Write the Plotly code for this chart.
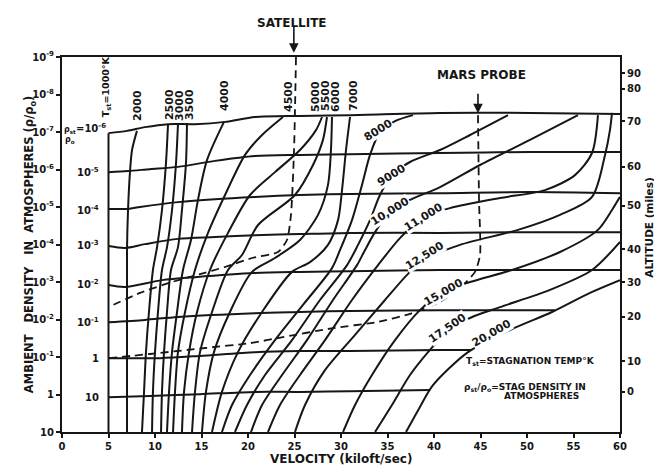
import numpy as np
import plotly.graph_objects as go

INK = "#161616"
FONT = "DejaVu Sans"

# ---------------- data (velocity in kiloft/sec, log10 of ambient density in atm) ----------------
# constant stagnation temperature curves
t1000_v = [5, 5]
t1000_e = [-6.97, 1.0]
t2000_v = [8.06, 7.53, 7.31, 7.10, 6.99, 6.99]
t2000_e = [-7.03, -6.52, -5.93, -4.92, -3.85, 1.0]
t2500_v = [11.40, 11.18, 10.75, 10.22, 9.78, 9.35, 9.03, 8.82, 8.60]
t2500_e = [-7.21, -6.17, -4.92, -3.93, -3.32, -2.20, -1.13, -0.07, 1.0]
t3000_v = [12.47, 12.26, 11.83, 11.29, 10.75, 10.32, 10.00, 9.78, 9.68]
t3000_e = [-7.21, -6.17, -4.92, -3.93, -3.32, -2.20, -1.13, -0.07, 1.0]
t3500_v = [13.44, 13.33, 12.90, 12.47, 11.72, 11.29, 10.97, 10.75, 10.65]
t3500_e = [-7.24, -6.17, -4.92, -3.93, -3.32, -2.20, -1.13, -0.07, 1.0]
t4000_v = [17.42, 15.59, 14.62, 13.87, 13.01, 12.37, 11.83, 11.51, 11.29]
t4000_e = [-7.27, -6.25, -5.19, -4.12, -3.32, -2.20, -1.13, -0.07, 1.0]
t4500_v = [23.76, 21.51, 19.68, 17.53, 15.70, 14.30, 13.23, 12.47, 12.15, 11.94]
t4500_e = [-7.40, -6.92, -6.39, -5.32, -4.31, -3.32, -2.20, -1.13, -0.07, 1.0]
t5000_v = [27.96, 27.31, 25.59, 22.90, 20.22, 17.85, 15.91, 14.52, 13.66, 13.12, 12.90]
t5000_e = [-7.40, -7.05, -6.52, -5.93, -5.32, -4.31, -3.32, -2.20, -1.13, -0.07, 1.0]
t5500_v = [28.49, 28.06, 26.99, 25.05, 21.08, 19.35, 17.85, 16.13, 14.84, 14.30, 13.98]
t5500_e = [-7.40, -6.79, -6.12, -5.32, -4.52, -3.72, -3.32, -2.20, -1.13, -0.07, 1.0]
t6000_v = [29.03, 28.92, 28.60, 27.53, 25.59, 22.90, 20.43, 18.06, 16.34, 15.48, 15.05]
t6000_e = [-7.40, -6.52, -5.59, -4.79, -4.12, -3.64, -3.27, -2.20, -1.13, -0.07, 1.0]
t7000_v = [30.97, 30.54, 30.11, 29.68, 28.60, 26.67, 24.73, 21.51, 18.92, 17.20, 16.13]
t7000_e = [-7.40, -6.52, -5.45, -4.65, -3.99, -3.53, -3.27, -2.20, -1.13, -0.07, 1.0]
t8000_v = [37.74, 35.81, 34.19, 33.12, 32.26, 31.18, 29.89, 29.03, 25.91, 22.90, 20.22, 18.28, 17.20]
t8000_e = [-7.45, -7.29, -7.00, -6.39, -5.59, -4.65, -3.85, -3.37, -2.39, -1.45, -0.52, 0.28, 1.0]
t9000_v = [47.96, 43.87, 40.65, 37.42, 35.48, 34.19, 33.12, 31.83, 30.65, 27.74, 24.73, 21.83, 19.89, 18.60]
t9000_e = [-7.45, -6.92, -6.52, -6.20, -5.85, -5.32, -4.65, -3.99, -3.45, -2.52, -1.45, -0.52, 0.28, 1.0]
t10000_v = [55.48, 50.32, 44.95, 40.65, 37.42, 35.27, 33.66, 32.47, 31.72, 29.14, 26.34, 23.66, 21.51, 20.32]
t10000_e = [-7.45, -6.79, -6.12, -5.53, -5.19, -4.87, -4.33, -3.80, -3.45, -2.52, -1.45, -0.52, 0.28, 1.0]
t11000_v = [57.63, 56.99, 55.16, 51.94, 47.10, 41.72, 38.82, 36.34, 33.98, 31.18, 28.28, 25.59, 23.44, 22.15]
t11000_e = [-7.45, -6.44, -5.85, -5.45, -5.24, -4.97, -4.73, -4.17, -3.45, -2.52, -1.45, -0.52, 0.28, 1.0]
t12500_v = [59.14, 58.92, 58.39, 56.99, 53.55, 49.03, 42.80, 39.35, 37.42, 34.73, 31.51, 28.28, 26.13, 25.05]
t12500_e = [-7.51, -7.05, -6.39, -5.27, -4.79, -4.39, -3.99, -3.64, -3.27, -2.52, -1.59, -0.65, 0.28, 1.0]
t15000_v = [60.0, 59.14, 57.63, 53.55, 48.39, 43.87, 40.97, 38.49, 35.81, 33.33, 31.51, 30.22]
t15000_e = [-5.27, -4.92, -4.39, -3.80, -3.32, -3.00, -2.73, -2.25, -1.45, -0.52, 0.28, 1.0]
t17500_v = [60.0, 56.99, 52.47, 47.10, 43.87, 41.40, 39.57, 37.42, 35.48, 33.66]
t17500_e = [-4.07, -3.32, -2.79, -2.33, -2.04, -1.67, -1.19, -0.52, 0.28, 1.0]
t20000_v = [60.0, 56.77, 52.69, 48.17, 43.66, 39.89, 38.49, 36.99]
t20000_e = [-3.05, -2.71, -2.20, -1.72, -1.13, -0.25, 0.33, 1.0]

# constant stagnation density ratio curves
d6_v = [5, 6.99, 8.92, 11.40, 14.30, 17.53, 20.75, 25.59, 30.97, 40.65, 50.32, 60.0]
d6_e = [-6.97, -7.03, -7.13, -7.21, -7.21, -7.27, -7.40, -7.43, -7.45, -7.51, -7.51, -7.48]
d5_v = [5, 7.10, 9.46, 12.47, 16.45, 20.75, 25.59, 30.97, 40.65, 50.32, 60.0]
d5_e = [-5.93, -5.96, -6.01, -6.07, -6.23, -6.36, -6.39, -6.41, -6.44, -6.47, -6.47]
d4_v = [5, 7.10, 8.39, 12.47, 16.45, 20.75, 25.59, 30.97, 40.65, 50.32, 60.0]
d4_e = [-4.95, -4.95, -5.00, -5.13, -5.21, -5.27, -5.32, -5.35, -5.37, -5.40, -5.37]
d3_v = [5, 6.77, 8.92, 12.47, 16.45, 20.75, 25.59, 30.97, 40.65, 50.32, 60.0]
d3_e = [-3.96, -3.91, -4.01, -4.15, -4.20, -4.25, -4.28, -4.31, -4.31, -4.33, -4.33]
d2_v = [5, 6.77, 10.75, 14.30, 20.75, 25.59, 30.97, 40.65, 50.32, 60.0]
d2_e = [-2.92, -2.87, -3.05, -3.13, -3.24, -3.27, -3.29, -3.32, -3.32, -3.32]
d1_v = [5, 8.92, 12.47, 20.75, 25.59, 30.97, 40.65, 53.0]
d1_e = [-1.93, -1.99, -2.07, -2.17, -2.20, -2.23, -2.25, -2.25]
d0_v = [5, 10.54, 14.84, 20.75, 25.59, 30.97, 40.65, 44.1]
d0_e = [-0.97, -0.97, -1.03, -1.13, -1.16, -1.16, -1.19, -1.19]
dp1_v = [5, 9.46, 14.84, 20.75, 25.59, 30.97, 39.6]
dp1_e = [0.07, 0.04, -0.01, -0.07, -0.07, -0.09, -0.12]

# trajectories (dashed)
sat_v = [25.16, 24.95, 24.62, 24.19, 23.23, 20.43, 17.53, 14.84, 11.83, 8.39, 5.0]
sat_e = [-9.0, -6.52, -4.79, -4.12, -3.80, -3.64, -3.40, -3.21, -3.00, -2.71, -2.33]
mars_v = [44.73, 44.84, 44.95, 44.41, 43.12, 40.65, 37.42, 33.87, 29.14, 23.76, 20.22, 15.38, 9.46, 5.0]
mars_e = [-7.45, -5.19, -3.72, -3.27, -2.92, -2.47, -2.15, -1.93, -1.77, -1.53, -1.37, -1.24, -1.08, -0.97]

# axes
x_ticks = [0, 5, 10, 15, 20, 25, 30, 35, 40, 45, 50, 55, 60]
dens_ticks = [1e-9, 1e-8, 1e-7, 1e-6, 1e-5, 1e-4, 1e-3, 1e-2, 1e-1, 1, 10]
dens_labels = ["10<sup>-9</sup>", "10<sup>-8</sup>", "10<sup>-7</sup>", "10<sup>-6</sup>", "10<sup>-5</sup>",
               "10<sup>-4</sup>", "10<sup>-3</sup>", "10<sup>-2</sup>", "10<sup>-1</sup>", "1", "10"]
alt_labels = ["90", "80", "70", "60", "50", "40", "30", "20", "10", "0"]
alt_exp = [-8.57, -8.15, -7.29, -6.07, -5.03, -3.88, -3.00, -2.07, -0.89, -0.07]

# curve labels
top_T_labels = ["2000", "2500", "3000", "3500", "4000", "4500", "5000", "5500", "6000", "7000"]
top_T_v = [8.06, 11.51, 12.58, 13.66, 17.42, 24.30, 27.20, 28.28, 29.35, 31.29]
top_T_e = [-7.72, -7.72, -7.72, -7.72, -7.96, -7.96, -7.96, -7.96, -7.96, -7.96]
in_T_labels = ["8000", "9000", "10,000", "11,000", "12,500", "15,000", "17,500", "20,000"]
in_T_v = [33.98, 35.38, 35.27, 38.82, 39.03, 40.97, 41.40, 46.13]
in_T_e = [-7.03, -5.85, -4.87, -4.73, -3.72, -2.73, -1.77, -1.64]
in_T_ang = [-32, -32, -32, -32, -32, -30, -35, -30]
rho_labels = ["10<sup>-5</sup>", "10<sup>-4</sup>", "10<sup>-3</sup>", "10<sup>-2</sup>", "10<sup>-1</sup>", "1", "10"]
rho_e = [-5.93, -4.92, -3.99, -2.95, -1.93, -0.97, 0.07]

T_CURVES = [(t1000_v, t1000_e), (t2000_v, t2000_e), (t2500_v, t2500_e), (t3000_v, t3000_e),
            (t3500_v, t3500_e), (t4000_v, t4000_e), (t4500_v, t4500_e), (t5000_v, t5000_e),
            (t5500_v, t5500_e), (t6000_v, t6000_e), (t7000_v, t7000_e), (t8000_v, t8000_e),
            (t9000_v, t9000_e), (t10000_v, t10000_e), (t11000_v, t11000_e), (t12500_v, t12500_e),
            (t15000_v, t15000_e), (t17500_v, t17500_e), (t20000_v, t20000_e)]
D_CURVES = [(d6_v, d6_e), (d5_v, d5_e), (d4_v, d4_e), (d3_v, d3_e), (d2_v, d2_e),
            (d1_v, d1_e), (d0_v, d0_e), (dp1_v, dp1_e)]


def dens(e):
    return np.power(10.0, np.asarray(e, dtype=float))


fig = go.Figure()
for v, e in T_CURVES + D_CURVES:
    fig.add_trace(go.Scatter(x=v, y=dens(e), mode="lines", hoverinfo="skip",
                             line=dict(color=INK, width=2, shape="spline", smoothing=0.8)))
for v, e in [(sat_v, sat_e), (mars_v, mars_e)]:
    fig.add_trace(go.Scatter(x=v, y=dens(e), mode="lines", hoverinfo="skip",
                             line=dict(color=INK, width=1.8, dash="8px,5px", shape="spline", smoothing=0.6)))
# right axis carrier
fig.add_trace(go.Scatter(x=[None], y=[None], yaxis="y2", mode="lines", hoverinfo="skip"))

ann = []
bf = dict(family=FONT, size=11, color=INK, weight="bold")
for t, v, e in zip(top_T_labels, top_T_v, top_T_e):
    ann.append(dict(x=v, y=e, xref="x", yref="y", text=t, showarrow=False, textangle=-90, font=bf))
ann.append(dict(x=4.75, y=-8.2, xref="x", yref="y", text="T<sub>st</sub>=1000°K", showarrow=False,
                textangle=-90, font=dict(family=FONT, size=9.5, color=INK, weight="bold")))
for t, v, e, a in zip(in_T_labels, in_T_v, in_T_e, in_T_ang):
    ann.append(dict(x=v, y=e, xref="x", yref="y", text=t, showarrow=False, textangle=a,
                    font=dict(family=FONT, size=11, color=INK, weight="bold"), bgcolor="white", borderpad=0))
for t, e in zip(rho_labels, rho_e):
    ann.append(dict(x=4.2, y=e, xref="x", yref="y", text=t, showarrow=False, xanchor="right",
                    font=dict(family=FONT, size=10, color=INK, weight="bold")))
ann.append(dict(x=4.9, y=-7.12, xref="x", yref="y", text="=10<sup>-6</sup>",
                showarrow=False, xanchor="right", font=dict(family=FONT, size=10, color=INK, weight="bold")))
ann.append(dict(x=0.85, y=-6.92, xref="x", yref="y", text="ρ<sub>st</sub><br>ρ<sub>o</sub>",
                showarrow=False, font=dict(family=FONT, size=8, color=INK, weight="bold")))
# legend-like notes
ann.append(dict(x=50.4, y=-0.87, xref="x", yref="y", text="T<sub>st</sub>=STAGNATION TEMP°K", showarrow=False,
                font=dict(family=FONT, size=9, color=INK, weight="bold")))
ann.append(dict(x=49.8, y=-0.20, xref="x", yref="y", text="ρ<sub>st</sub>/ρ<sub>o</sub>=STAG DENSITY IN",
                showarrow=False, font=dict(family=FONT, size=9, color=INK, weight="bold")))
ann.append(dict(x=51.6, y=0.05, xref="x", yref="y", text="ATMOSPHERES", showarrow=False,
                font=dict(family=FONT, size=9, color=INK, weight="bold")))
# trajectory names + arrows
ann.append(dict(x=0.412, y=1.115, xref="paper", yref="paper", text="SATELLITE", showarrow=False,
                font=dict(family=FONT, size=12, color=INK, weight="bold")))
ann.append(dict(x=0.4155, y=1.011, xref="paper", yref="paper", text="", showarrow=True, ax=0, ay=-28,
                arrowhead=2, arrowsize=1.2, arrowwidth=1.6, arrowcolor=INK))
ann.append(dict(x=45.1, y=-8.51, xref="x", yref="y", text="MARS PROBE", showarrow=False,
                font=dict(family=FONT, size=12, color=INK, weight="bold")))
ann.append(dict(x=44.73, y=-7.5, xref="x", yref="y", text="", showarrow=True, ax=0, ay=-21,
                arrowhead=2, arrowsize=1.2, arrowwidth=1.6, arrowcolor=INK))
# axis titles
ann.append(dict(x=-0.075, y=0.50, xref="paper", yref="paper",
                text="AMBIENT   DENSITY   IN  ATMOSPHERES (ρ/ρ<sub>o</sub>)", showarrow=False, textangle=-90,
                font=dict(family=FONT, size=11.5, color=INK, weight="bold")))
ann.append(dict(x=1.066, y=0.547, xref="paper", yref="paper", text="ALTITUDE (miles)", showarrow=False,
                textangle=-90, font=dict(family=FONT, size=10.5, color=INK, weight="bold")))
ann.append(dict(x=0.5, y=-0.072, xref="paper", yref="paper", text="VELOCITY (kiloft/sec)", showarrow=False,
                yanchor="middle", font=dict(family=FONT, size=12, color=INK, weight="bold")))

tickf = dict(family=FONT, size=10, color=INK, weight="bold")
# the page adds an 8px body margin, so the figure is sized to sit inside the 662x472 window
fig.update_layout(
    width=654, height=464, margin=dict(l=54, r=42, t=49, b=40),
    paper_bgcolor="white", plot_bgcolor="white", showlegend=False,
    annotations=ann,
    xaxis=dict(range=[0, 60], tickvals=x_ticks, ticks="outside", ticklen=4, tickwidth=1.5, tickcolor=INK,
               showline=True, linewidth=2, linecolor=INK, mirror=True, showgrid=False, zeroline=False,
               tickfont=tickf),
    yaxis=dict(type="log", range=[1, -9], tickvals=dens_ticks, ticktext=dens_labels, ticks="outside",
               ticklen=4, tickwidth=1.5, tickcolor=INK, showline=True, linewidth=2, linecolor=INK,
               mirror=True, showgrid=False, zeroline=False, tickfont=tickf),
    yaxis2=dict(type="log", range=[1, -9], overlaying="y", side="right", tickvals=list(dens(alt_exp)),
                ticktext=alt_labels, ticks="outside", ticklen=4, tickwidth=1.5, tickcolor=INK,
                showline=False, showgrid=False, zeroline=False, tickfont=tickf),
)
fig.write_html("out.html")
